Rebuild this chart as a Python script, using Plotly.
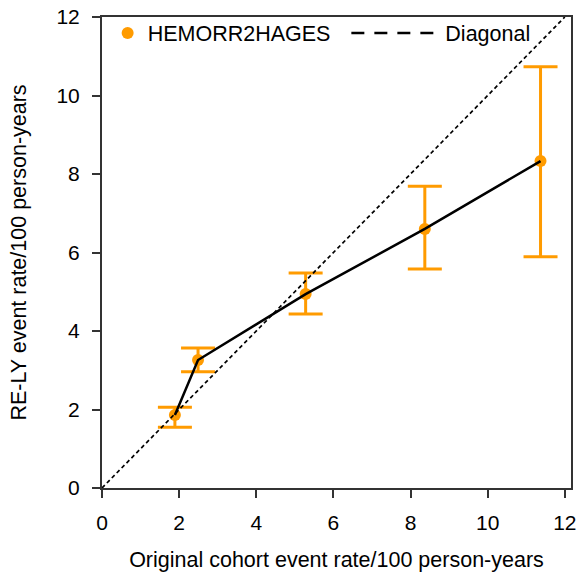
import plotly.graph_objects as go

orig_rate = [1.89, 2.49, 5.28, 8.37, 11.37]
rely_rate = [1.86, 3.26, 4.94, 6.60, 8.33]
ci_upper = [2.06, 3.57, 5.48, 7.69, 10.73]
ci_lower = [1.55, 2.96, 4.43, 5.58, 5.89]
diag = [0, 12]
ticks = [0, 2, 4, 6, 8, 10, 12]

orange = "#FF9B00"
err_plus = [u - v for u, v in zip(ci_upper, rely_rate)]
err_minus = [v - l for v, l in zip(rely_rate, ci_lower)]
FONT = "Liberation Sans, Arial"

fig = go.Figure()
fig.add_trace(go.Scatter(
    x=orig_rate, y=rely_rate, mode="markers", name="HEMORR2HAGES",
    marker=dict(color=orange, size=12), legend="legend",
    error_y=dict(type="data", symmetric=False, array=err_plus, arrayminus=err_minus,
                 color=orange, thickness=3, width=17),
))
fig.add_trace(go.Scatter(
    x=diag, y=diag, mode="lines", name="Diagonal", showlegend=False,
    line=dict(color="black", width=1.7, dash="4px,3px"),
))
# legend entry for the diagonal (longer dashes as in the reference legend)
fig.add_trace(go.Scatter(
    x=[None], y=[None], mode="lines", name=" Diagonal", legend="legend2",
    line=dict(color="black", width=2.4, dash="13px,10px"),
))
fig.add_trace(go.Scatter(
    x=orig_rate, y=rely_rate, mode="lines", showlegend=False,
    line=dict(color="black", width=2.5),
))

axis_common = dict(
    tickvals=ticks, ticks="outside", ticklen=8, tickwidth=2, automargin=False,
    tickcolor="#333", showline=True, linewidth=2, linecolor="#333", mirror=True,
    showgrid=False, zeroline=False,
    tickfont=dict(family=FONT, size=21, color="black"),
)
fig.update_layout(
    width=587, height=576, margin=dict(l=102, r=16, t=17, b=88),
    paper_bgcolor="white", plot_bgcolor="white",
    font=dict(family=FONT, size=21, color="black"),
    xaxis=dict(**axis_common, range=[0, 12.16], ticklabelstandoff=7,
               title=dict(text="Original cohort event rate/100 person-years",
                          font=dict(size=21.5), standoff=19)),
    yaxis=dict(**axis_common, range=[0, 12], ticklabelstandoff=8,
               title=dict(text="RE-LY event rate/100 person-years",
                          font=dict(size=21.5), standoff=24)),
    legend=dict(orientation="h", x=0.012, y=0.966, xanchor="left", yanchor="middle",
                bgcolor="rgba(0,0,0,0)", font=dict(size=21.5)),
    legend2=dict(orientation="h", x=0.521, y=0.966, xanchor="left", yanchor="middle",
                 bgcolor="rgba(0,0,0,0)", font=dict(size=21.5), itemwidth=83),
    showlegend=True,
)
fig.write_html("out.html")
